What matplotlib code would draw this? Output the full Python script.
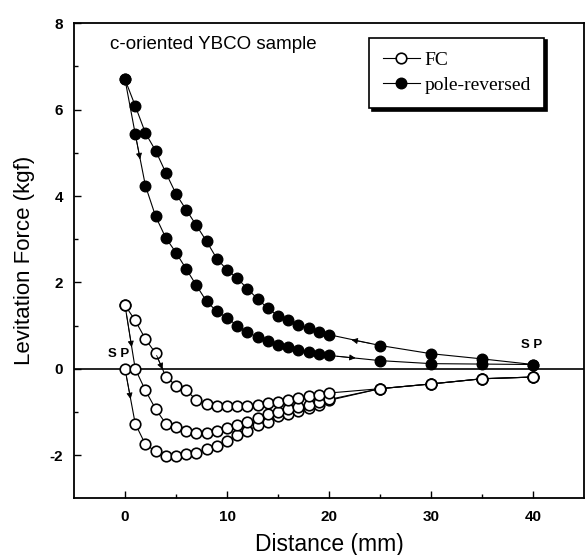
import numpy as np
import matplotlib
matplotlib.use('Agg')
import matplotlib.pyplot as plt

plt.rcParams['font.family'] = ['Liberation Sans', 'DejaVu Sans']
plt.rcParams['axes.unicode_minus'] = False

# distances (mm)
x_near = list(range(0, 21))
x_far = [25, 30, 35, 40]

# pole-reversed, approach branch (upper) and retreat branch (lower)
pr_up = [6.70, 6.09, 5.46, 5.05, 4.54, 4.05, 3.68, 3.32, 2.95, 2.55, 2.29,
         2.10, 1.85, 1.62, 1.40, 1.23, 1.14, 1.02, 0.94, 0.86, 0.79]
pr_up_far = [0.54, 0.35, 0.23, 0.10]
pr_lo = [6.70, 5.44, 4.24, 3.53, 3.03, 2.69, 2.31, 1.93, 1.56, 1.33, 1.18,
         1.00, 0.85, 0.73, 0.64, 0.56, 0.50, 0.44, 0.38, 0.35, 0.31]
pr_lo_far = [0.19, 0.12, 0.11, 0.10]

# FC, three branches
fc_low = [0.00, -1.27, -1.75, -1.91, -2.01, -2.01, -1.97, -1.95, -1.85, -1.78, -1.66,
          -1.54, -1.43, -1.31, -1.22, -1.10, -1.04, -0.97, -0.91, -0.83, -0.73]
fc_mid = [1.47, 0.00, -0.50, -0.93, -1.27, -1.35, -1.44, -1.49, -1.49, -1.43, -1.37,
          -1.31, -1.24, -1.14, -1.04, -0.99, -0.93, -0.89, -0.83, -0.77, -0.71]
fc_top = [1.47, 1.12, 0.69, 0.36, -0.18, -0.39, -0.50, -0.72, -0.81, -0.85, -0.87,
          -0.87, -0.87, -0.83, -0.80, -0.77, -0.73, -0.68, -0.63, -0.60, -0.56]
fc_far = [-0.46, -0.35, -0.23, -0.19]

# direction arrows: tail (x, y) -> head (x, y)
arrows = [(0.15, 1.25, 0.66, 0.50),
          (0.15, -0.19, 0.55, -0.70),
          (3.10, 0.31, 3.68, -0.01),
          (1.10, 5.32, 1.48, 4.85),
          (24.0, 0.59, 22.2, 0.67),
          (20.8, 0.29, 22.6, 0.25)]

fig = plt.figure(figsize=(5.85, 5.55), dpi=100)
ax = fig.add_axes([0.1265, 0.102, 0.872, 0.856])

ax.axhline(0, color='black', lw=1.2, zorder=1)

ms = 7.6
open_kw = dict(color='black', lw=0.8, marker='o', ms=ms, mfc='white', mec='black', mew=1.2)
fill_kw = dict(color='black', lw=0.8, marker='o', ms=ms, mfc='black', mec='black')

xs = x_near + x_far
ax.plot(xs, fc_low + fc_far, **open_kw, zorder=3)
ax.plot(xs, fc_mid + fc_far, **open_kw, zorder=3)
ax.plot(xs, fc_top + fc_far, **open_kw, zorder=3, label='FC')
ax.plot(xs, pr_up + pr_up_far, **fill_kw, zorder=3)
ax.plot(xs, pr_lo + pr_lo_far, **fill_kw, zorder=3, label='pole-reversed')

for x0, y0, x1, y1 in arrows:
    ax.annotate('', xy=(x1, y1), xytext=(x0, y0),
                arrowprops=dict(arrowstyle='-|>', color='black', lw=0.6,
                                mutation_scale=9, shrinkA=0, shrinkB=0), zorder=4)

ax.text(-1.5, 7.52, 'c-oriented YBCO sample', fontsize=13.5, va='center', ha='left')
ax.text(-0.65, 0.35, 'S P', fontsize=9.5, fontweight='bold', ha='center', va='center')
ax.text(39.9, 0.56, 'S P', fontsize=9.5, fontweight='bold', ha='center', va='center')

ax.set_xlim(-5, 45)
ax.set_ylim(-3, 8)
ax.set_xticks([0, 10, 20, 30, 40])
ax.set_xticks([5, 15, 25, 35], minor=True)
ax.set_yticks([-2, 0, 2, 4, 6, 8])
ax.set_yticks([-1, 1, 3, 5, 7], minor=True)
ax.tick_params(which='both', direction='in', top=False, right=False, width=1)
ax.tick_params(which='major', length=5)
ax.tick_params(which='minor', length=3)
ax.tick_params(axis='x', pad=8)
ax.tick_params(axis='y', pad=8)
for lab in ax.get_xticklabels() + ax.get_yticklabels():
    lab.set_fontsize(11)
    lab.set_fontweight('bold')
for sp in ax.spines.values():
    sp.set_linewidth(1.3)

ax.set_xlabel('Distance (mm)', fontsize=16.5, labelpad=7)
ax.set_ylabel('Levitation Force (kgf)', fontsize=16, labelpad=10)

leg = ax.legend(loc='upper right', bbox_to_anchor=(0.922, 0.97), numpoints=1,
                prop={'family': 'Liberation Serif', 'size': 14}, frameon=True,
                fancybox=False, shadow={'color': 'black', 'alpha': 1},
                handlelength=1.95, handletextpad=0.2, borderpad=0.7,
                labelspacing=0.4, borderaxespad=0)
leg.get_frame().set_edgecolor('black')
leg.get_frame().set_linewidth(1.2)

fig.savefig('out.png', dpi=100)
